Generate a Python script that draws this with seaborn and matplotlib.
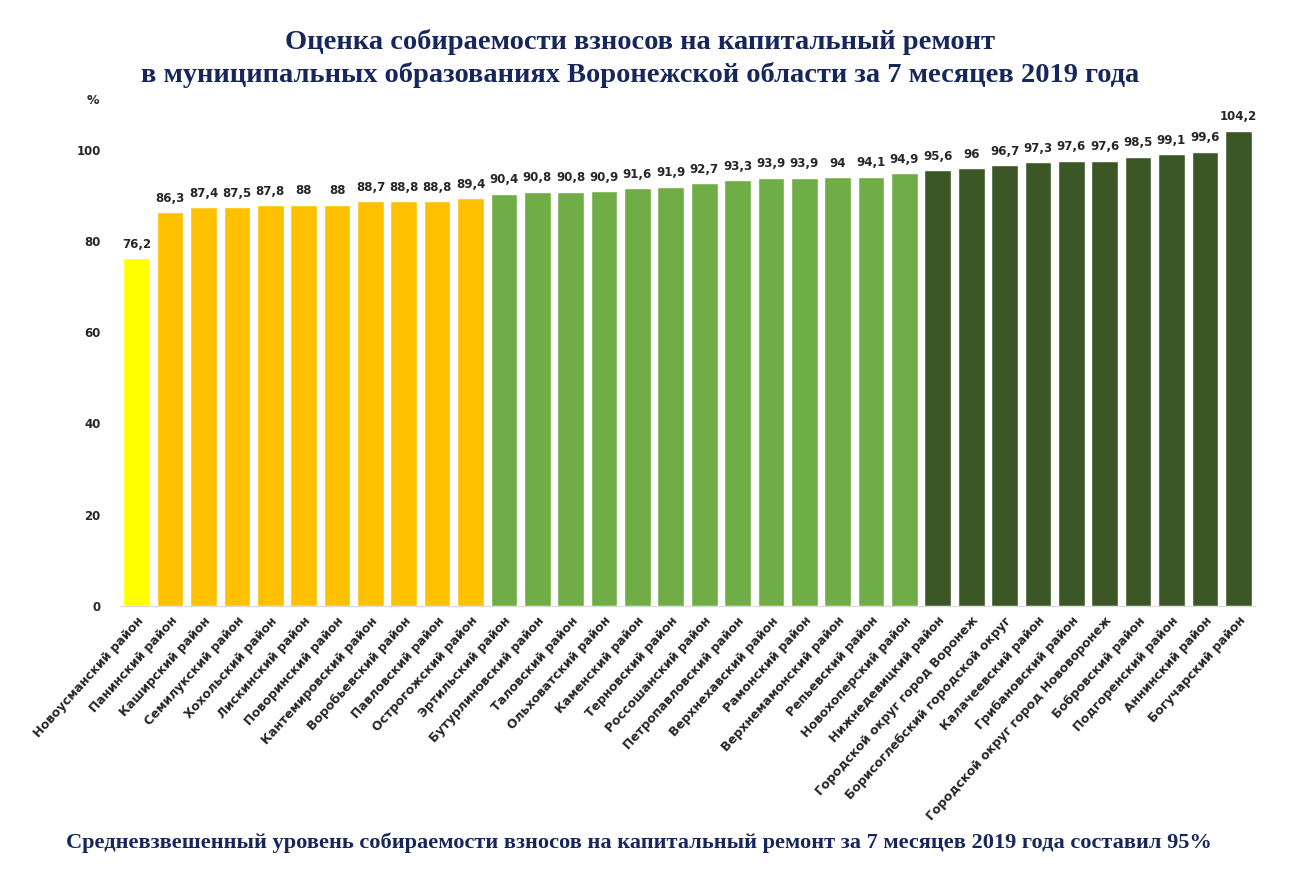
import pandas as pd
import matplotlib
matplotlib.use("Agg")
import matplotlib.pyplot as plt
import seaborn as sns

sns.set_style("white")
plt.rcParams['font.family'] = ['DejaVu Sans']

districts = [
    "Новоусманский район", "Панинский район", "Каширский район", "Семилукский район",
    "Хохольский район", "Лискинский район", "Поворинский район", "Кантемировский район",
    "Воробьевский район", "Павловский район", "Острогожский район", "Эртильский район",
    "Бутурлиновский район", "Таловский район", "Ольховатский район", "Каменский район",
    "Терновский район", "Россошанский район", "Петропавловский район", "Верхнехавский район",
    "Рамонский район", "Верхнемамонский район", "Репьевский район", "Новохоперский район",
    "Нижнедевицкий район", "Городской округ город Воронеж", "Борисоглебский городской округ",
    "Калачеевский район", "Грибановский район", "Городской округ город Нововоронеж",
    "Бобровский район", "Подгоренский район", "Аннинский район", "Богучарский район",
]
collection = [
    76.2, 86.3, 87.4, 87.5, 87.8, 88, 88, 88.7, 88.8, 88.8, 89.4, 90.4,
    90.8, 90.8, 90.9, 91.6, 91.9, 92.7, 93.3, 93.9, 93.9, 94, 94.1, 94.9,
    95.6, 96, 96.7, 97.3, 97.6, 97.6, 98.5, 99.1, 99.6, 104.2,
]
group = ["<80"] + ["80-90"] * 10 + ["90-95"] * 13 + [">=95"] * 10

palette = {"<80": "#FFFF00", "80-90": "#FFC000", "90-95": "#70AD47", ">=95": "#3B5726"}

df = pd.DataFrame({"district": districts, "value": collection, "group": group})

fig = plt.figure(figsize=(13.12, 8.82), dpi=100)
ax = fig.add_axes([0.0915, 0.313, 0.865, 0.543])

sns.barplot(data=df, x="district", y="value", hue="group", palette=palette,
            dodge=False, width=0.8, saturation=1, legend=False, ax=ax)

ax.set_ylim(0, 105)
ax.set_xlim(-0.5, len(districts) - 0.5)
ax.set_yticks([0, 20, 40, 60, 80, 100])
ax.set_yticklabels(["0", "20", "40", "60", "80", "100"], fontsize=8.5, fontweight="bold")
ax.tick_params(axis="y", length=0, pad=14)
ax.tick_params(axis="x", length=0, pad=6)
ax.set_xticks(range(len(districts)))
ax.set_xticklabels(districts, rotation=48, ha="right", rotation_mode="anchor",
                   fontsize=8.9, fontweight="bold")
ax.set_xlabel("")
ax.set_ylabel("")
for s in ["top", "right", "left"]:
    ax.spines[s].set_visible(False)
ax.spines["bottom"].set_color("#D9D9D9")

for i, v in enumerate(collection):
    lbl = f"{v:g}".replace(".", ",")
    ax.text(i, v + 1.6, lbl, ha="center", va="bottom", fontsize=8.5, fontweight="bold")

fig.text(93 / 1312, 1 - 100 / 882, "%", ha="center", va="center", fontsize=9, fontweight="bold")

navy = "#17275C"
serif = ["Liberation Serif", "DejaVu Serif"]
fig.text(640 / 1312, 1 - 42 / 882, "Оценка собираемости взносов на капитальный ремонт",
         ha="center", va="center", fontsize=20.5, fontweight="bold", color=navy, family=serif)
fig.text(640 / 1312, 1 - 75 / 882,
         "в муниципальных образованиях Воронежской области за 7 месяцев 2019 года",
         ha="center", va="center", fontsize=20.5, fontweight="bold", color=navy, family=serif)
fig.text(639 / 1312, 1 - 843 / 882,
         "Средневзвешенный уровень собираемости взносов на капитальный ремонт за 7 месяцев 2019 года составил 95%",
         ha="center", va="center", fontsize=16.1, fontweight="bold", color=navy, family=serif)

fig.savefig("out.png", dpi=100)
